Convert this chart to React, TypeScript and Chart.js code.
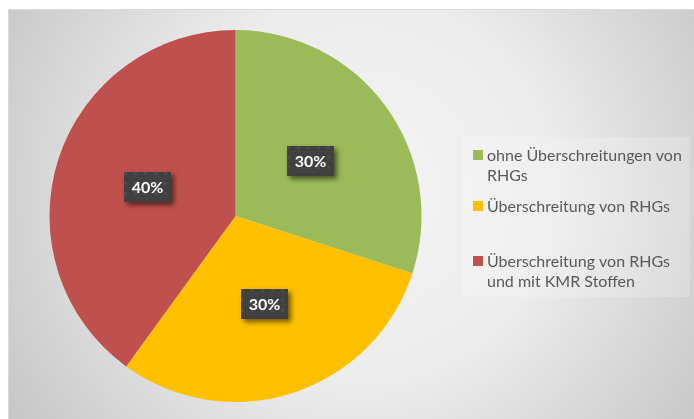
import React, { useEffect, useRef } from "react";
import { Chart, registerables } from "chart.js";

Chart.register(...registerables);

const categories = [
  "ohne Überschreitungen von RHGs",
  "Überschreitung von RHGs",
  "Überschreitung von RHGs und mit KMR Stoffen",
];
const legendLines = [
  ["ohne Überschreitungen von", "RHGs"],
  ["Überschreitung von RHGs"],
  ["Überschreitung von RHGs", "und mit KMR Stoffen"],
];
const values = [30, 30, 40];
const valueLabels = ["30%", "30%", "40%"];
const colors = ["#9bbb59", "#ffc000", "#c0504d"];

const W = 694;
const H = 419;

function makePattern(ctx: CanvasRenderingContext2D) {
  const c = document.createElement("canvas");
  c.width = 10;
  c.height = 10;
  const p = c.getContext("2d")!;
  p.fillStyle = "#404040";
  p.fillRect(0, 0, 10, 10);
  p.fillStyle = "#4b4b4b";
  p.fillRect(0, 0, 3, 3);
  p.fillStyle = "#444444";
  p.fillRect(0, 5, 10, 1);
  return ctx.createPattern(c, "repeat");
}

const bgPlugin = {
  id: "bgPlugin",
  beforeDraw(chart: any) {
    const ctx = chart.ctx as CanvasRenderingContext2D;
    ctx.save();
    ctx.fillStyle = "#ffffff";
    ctx.fillRect(0, 0, W, H);
    const g = ctx.createRadialGradient(360, 190, 0, 360, 190, 430);
    g.addColorStop(0, "#f4f4f4");
    g.addColorStop(0.45, "#ececec");
    g.addColorStop(1, "#c4c4c4");
    ctx.fillStyle = g;
    ctx.fillRect(9, 10, W, H);
    ctx.strokeStyle = "#d9d9d9";
    ctx.lineWidth = 1;
    ctx.strokeRect(8.5, 9.5, W + 10, H + 10);
    // legend box
    ctx.fillStyle = "rgba(255,255,255,0.2)";
    ctx.fillRect(462, 137, 228, 160);
    ctx.restore();
  },
};

const labelPlugin = {
  id: "labelPlugin",
  afterDatasetsDraw(chart: any) {
    const ctx = chart.ctx as CanvasRenderingContext2D;
    const meta = chart.getDatasetMeta(0);
    const pattern = makePattern(ctx);
    meta.data.forEach((arc: any, i: number) => {
      const { x, y } = arc.getCenterPoint();
      const bw = 47;
      const bh = 30;
      const bx = Math.round(x - bw / 2);
      const by = Math.round(y - bh / 2);
      ctx.save();
      ctx.shadowColor = "rgba(0,0,0,0.55)";
      ctx.shadowBlur = 5;
      ctx.shadowOffsetX = 3;
      ctx.shadowOffsetY = 3;
      ctx.fillStyle = "#404040";
      ctx.fillRect(bx, by, bw, bh);
      ctx.restore();
      ctx.save();
      ctx.fillStyle = pattern || "#404040";
      ctx.translate(bx, by);
      ctx.fillRect(0, 0, bw, bh);
      ctx.restore();
      ctx.save();
      ctx.fillStyle = "#ffffff";
      ctx.font = "bold 16px Lato, 'Open Sans', sans-serif";
      ctx.textAlign = "center";
      ctx.textBaseline = "middle";
      ctx.fillText(valueLabels[i], bx + bw / 2, by + bh / 2 + 1);
      ctx.restore();
    });
  },
};

const legendPlugin = {
  id: "legendPlugin",
  afterDraw(chart: any) {
    const ctx = chart.ctx as CanvasRenderingContext2D;
    const baselines = [161, 212, 267];
    ctx.save();
    ctx.font = "16px Lato, 'Open Sans', sans-serif";
    ctx.textBaseline = "alphabetic";
    ctx.textAlign = "left";
    legendLines.forEach((lines, i) => {
      const b = baselines[i];
      ctx.fillStyle = colors[i];
      ctx.fillRect(473, b - 11, 10, 10);
      ctx.fillStyle = "#595959";
      lines.forEach((t, j) => {
        ctx.fillText(t, 487, b + j * 20);
      });
    });
    ctx.restore();
  },
};

export default function App() {
  const ref = useRef<HTMLCanvasElement>(null);
  useEffect(() => {
    if (!ref.current) return;
    const chart = new Chart(ref.current, {
      type: "pie",
      data: {
        labels: categories,
        datasets: [
          {
            data: values,
            backgroundColor: colors,
            borderWidth: 0,
            hoverOffset: 0,
          },
        ],
      },
      options: {
        animation: false,
        responsive: false,
        layout: { padding: { left: 49.5, right: 272.5, top: 30, bottom: 17 } },
        plugins: {
          legend: { display: false },
          tooltip: { enabled: false },
        },
      },
      plugins: [bgPlugin, labelPlugin, legendPlugin],
    });
    return () => chart.destroy();
  }, []);
  return (
    <div style={{ position: "absolute", left: 0, top: 0, width: W, height: H }}>
      <canvas ref={ref} width={W} height={H} style={{ width: W, height: H, display: "block" }} />
    </div>
  );
}
